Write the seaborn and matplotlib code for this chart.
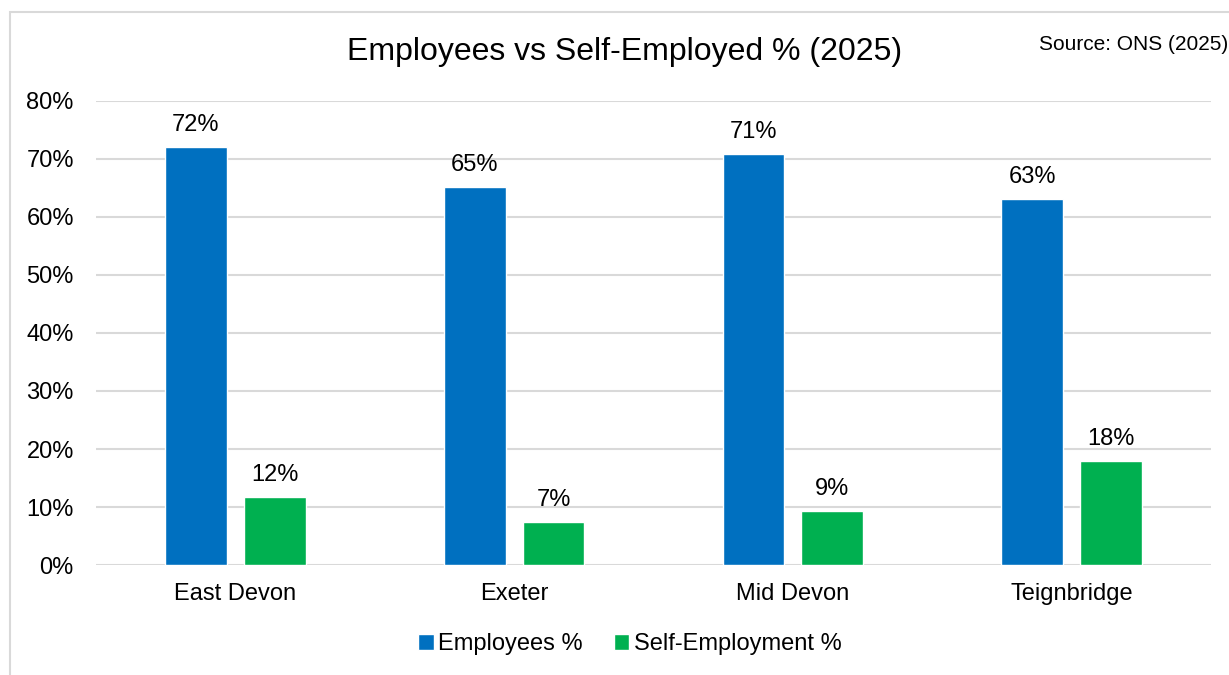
import matplotlib
matplotlib.use("Agg")
import matplotlib.pyplot as plt
import matplotlib.patches as mpatches
import pandas as pd
import seaborn as sns

# chart data
areas = ["East Devon", "Exeter", "Mid Devon", "Teignbridge"]
employees_pct = [72.1, 65.2, 70.9, 63.1]
self_employed_pct = [11.7, 7.4, 9.3, 17.9]
series_names = ["Employees %", "Self-Employment %"]
y_ticks = [0, 10, 20, 30, 40, 50, 60, 70, 80]

df = pd.DataFrame({
    "Area": areas * 2,
    "Series": [series_names[0]] * len(areas) + [series_names[1]] * len(areas),
    "Value": employees_pct + self_employed_pct,
})

sns.set_theme(style="white")
plt.rcParams["font.family"] = ["Liberation Sans", "DejaVu Sans"]
plt.rcParams["text.color"] = "black"
plt.rcParams["xtick.color"] = "black"
plt.rcParams["ytick.color"] = "black"

fig = plt.figure(figsize=(12.29, 6.75), dpi=100)
ax = fig.add_axes([96 / 1229, 1 - 565 / 675, (1211 - 96) / 1229, (565 - 101) / 675])

# light grey frame around the chart (partly cut off like the original)
fig.patches.append(mpatches.Rectangle((10 / 1229, -0.05), 1.05, 1 - 12 / 675 + 0.05,
                                      transform=fig.transFigure, fill=False,
                                      edgecolor="#D9D9D9", linewidth=1.5))

sns.barplot(data=df, x="Area", y="Value", hue="Series",
            palette=["#0070C0", "#00B050"], width=0.566, gap=0.216,
            saturation=1, ax=ax, legend=True)

for cont in ax.containers:
    ax.bar_label(cont, fmt="{:.0f}%", padding=8, fontsize=17, color="black")

ax.set_ylim(0, 80)
ax.set_xlim(-0.5, len(areas) - 0.5)
ax.set_yticks(y_ticks)
ax.set_yticklabels([f"{t}%" for t in y_ticks], fontsize=17)
ax.tick_params(axis="x", labelsize=17, length=0, pad=13)
ax.tick_params(axis="y", length=0, pad=16)
ax.set_xlabel("")
ax.set_ylabel("")
ax.yaxis.grid(True, color="#D9D9D9", linewidth=1.5)
ax.set_axisbelow(True)
for s in ax.spines.values():
    s.set_visible(False)

ax.legend(loc="center", bbox_to_anchor=(630 / 1229, (675 - 644) / 675), bbox_transform=fig.transFigure,
          ncol=2, frameon=False, fontsize=17, handlelength=0.65, handleheight=0.65,
          handletextpad=0.2, columnspacing=1.3)

fig.text(625 / 1229, 1 - 52 / 675, "Employees vs Self-Employed % (2025)",
         ha="center", va="center", fontsize=23)
fig.text(1228 / 1229, 1 - 45 / 675, "Source: ONS (2025)",
         ha="right", va="center", fontsize=15)

fig.savefig("out.png", dpi=100)
